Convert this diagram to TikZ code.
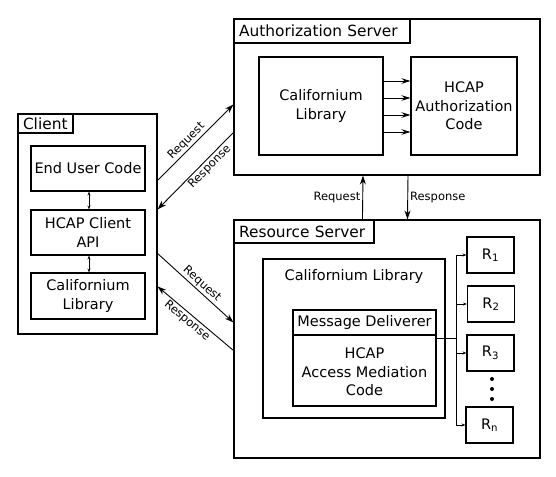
\documentclass[tikz,border=0pt]{standalone}
\usepackage{fontspec}
\setmainfont{DejaVu Sans}
\usetikzlibrary{arrows.meta,calc}
\begin{document}
\begin{tikzpicture}[x=1pt,y=-1pt,
  box/.style={draw, line width=1.1pt, inner sep=0pt, align=center, font=\fontsize{14.5}{18.5}\selectfont},
  titlebox/.style={box, anchor=north west, align=left, inner xsep=5pt, font=\fontsize{15.4}{18.5}\selectfont},
  conn/.style={line width=0.9pt},
  bigarrow/.style={conn, -{Stealth[length=9pt,width=6pt]}},
  midarrow/.style={conn, -{Stealth[length=9pt,width=5.5pt,inset=3pt]}},
  smallarrow/.style={line width=0.7pt, {Stealth[length=4pt,width=3pt]}-{Stealth[length=4pt,width=3pt]}},
  tinyarrow/.style={line width=0.7pt, -{Stealth[length=4pt,width=3pt]}},
  lbl/.style={font=\fontsize{11.5}{13}\selectfont, inner sep=1.5pt, sloped},
  vlbl/.style={font=\fontsize{11.5}{13}\selectfont, inner sep=2pt}
]
\useasboundingbox (0,0) rectangle (556,476);

% Client
\node[box, minimum width=139pt, minimum height=220pt] (client) at (87.5,224) {};
\node[titlebox, text width=45pt, minimum height=19pt] (clientt) at (client.north west) {Client};
\node[box, minimum width=114pt, minimum height=45pt] (euc) at (88,168.5) {End User Code};
\node[box, minimum width=114pt, minimum height=45pt] (hcapi) at (88,232.5) {HCAP Client\\API};
\node[box, minimum width=114pt, minimum height=46pt] (ccal) at (88,296) {Californium\\Library};
\draw[smallarrow] ([xshift=1pt]euc.south) -- ([xshift=1pt]hcapi.north);
\draw[smallarrow] ([xshift=1pt]hcapi.south) -- ([xshift=1pt]ccal.north);

% Authorization Server
\node[box, minimum width=306pt, minimum height=156pt] (auth) at (387,97) {};
\node[titlebox, text width=166pt, minimum height=24pt] (autht) at (auth.north west) {Authorization Server};
\node[box, minimum width=124pt, minimum height=98pt] (acal) at (321,106) {Californium\\Library};
\node[box, minimum width=106pt, minimum height=98pt] (hac) at (464,106) {HCAP\\Authorization\\Code};
\foreach \s in {25,8,-9,-26}
  \draw[midarrow] ([yshift=\s pt]acal.east) -- ([yshift=\s pt]hac.west);

% Resource Server
\node[box, minimum width=306pt, minimum height=238pt] (res) at (387,339) {};
\node[titlebox, text width=130pt, minimum height=23pt] (rest) at (res.north west) {Resource Server};
\node[box, minimum width=182pt, minimum height=159pt] (rcal) at (354,338.5) {};
\node[font=\fontsize{14.5}{18.5}\selectfont, anchor=north, inner sep=0pt] (rcallbl) at ([yshift=-11pt]rcal.north) {Californium Library};
\node[box, minimum width=143pt, minimum height=96pt] (md) at (364.5,358) {};
\node[box, anchor=north west, minimum width=143pt, minimum height=25pt] (mdh) at (md.north west) {Message Deliverer};
\node[font=\fontsize{14.5}{18.5}\selectfont, align=center, inner sep=0pt] (amc) at (364.5,372) {HCAP\\Access Mediation\\Code};

\node[box, minimum width=47pt, minimum height=36pt] (r1) at (490.5,255) {R\textsubscript{1}};
\node[box, minimum width=47pt, minimum height=36pt] (r2) at (491,304) {R\textsubscript{2}};
\node[box, minimum width=47pt, minimum height=36pt] (r3) at (490.5,353) {R\textsubscript{3}};
\node[box, minimum width=47pt, minimum height=36pt] (rn) at (489.5,425) {R\textsubscript{n}};
\fill (492,379) circle (2pt) (492,389) circle (2pt) (492,399) circle (2pt);

\coordinate (jn) at (456,338);
\draw[line width=0.7pt] ([yshift=20pt]md.east) -- (jn);
\draw[line width=0.7pt] (jn |- r1.west) -- (jn |- rn.west);
\foreach \r in {r1,r2,r3,rn}
  \draw[tinyarrow] (jn |- \r.west) -- (\r.west);

% Client <-> Authorization Server
\draw[bigarrow] ([yshift=-67pt]client.north east) -- node[lbl, above, pos=0.45] {Request} ([yshift=-86pt]auth.north west);
\draw[bigarrow, {Stealth[length=9pt,width=6pt]}-] ([yshift=-96pt]client.north east) -- node[lbl, below, pos=0.62] {Response} ([yshift=-114pt]auth.north west);

% Client <-> Resource Server
\draw[bigarrow] ([yshift=-140pt]client.north east) -- node[lbl, above, pos=0.52] {Request} ([yshift=-103pt]res.north west);
\draw[bigarrow, {Stealth[length=9pt,width=6pt]}-] ([yshift=-173pt]client.north east) -- node[lbl, below, pos=0.45] {Response} ([yshift=-131pt]res.north west);

% Resource <-> Authorization
\draw[bigarrow] ([xshift=129pt]res.north west) -- node[vlbl, left, pos=0.5] {Request} ([xshift=-24pt]auth.south);
\draw[bigarrow] ([xshift=21pt]auth.south) -- node[vlbl, right, pos=0.5] {Response} ([xshift=174pt]res.north west);
\end{tikzpicture}
\end{document}
